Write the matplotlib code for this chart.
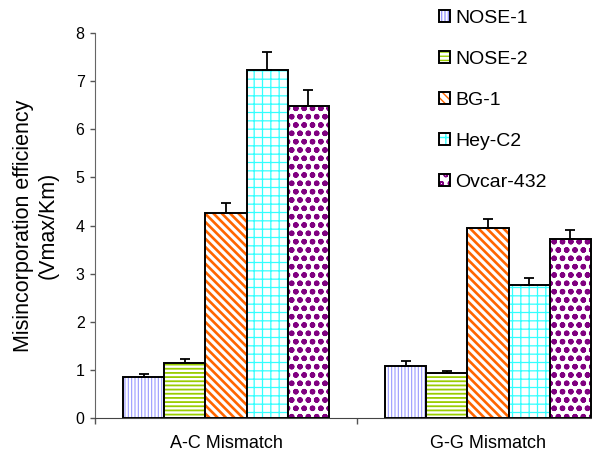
import numpy as np
import matplotlib
matplotlib.use("Agg")
import matplotlib.pyplot as plt
from matplotlib.legend_handler import HandlerTuple

plt.rcParams['font.family'] = ['Liberation Sans', 'DejaVu Sans']

#values
groups = ["A-C Mismatch", "G-G Mismatch"]
cell_lines = ["NOSE-1", "NOSE-2", "BG-1", "Hey-C2", "Ovcar-432"]
nose1 = [0.86, 1.08]
nose2 = [1.15, 0.93]
bg1 = [4.25, 3.94]
heyc2 = [7.23, 2.76]
ovcar = [6.49, 3.72]
nose1_err = [0.05, 0.10]
nose2_err = [0.08, 0.05]
bg1_err = [0.22, 0.20]
heyc2_err = [0.37, 0.14]
ovcar_err = [0.33, 0.19]
yticks = [0, 1, 2, 3, 4, 5, 6, 7, 8]

series = [nose1, nose2, bg1, heyc2, ovcar]
errors = [nose1_err, nose2_err, bg1_err, heyc2_err, ovcar_err]

#excel-like fill patterns
colors = ["#9999ff", "#99cc00", "#ff6600", "#33ffff", "#800080"]
hatches = ["|||||", "----", "\\\\\\\\", "++", "oo"]
hatch_lws = [0.8, 1.3, 1.9, 0.9, 1.6]

fig = plt.figure(figsize=(5.92, 4.51), dpi=100)
ax = fig.add_axes([95 / 592, 33 / 451, 524 / 592, 385 / 451])

width = 0.157
margin = (1 - width * len(series)) / 2
base = np.arange(len(groups))

handles = []
for i, (vals, errs) in enumerate(zip(series, errors)):
    x = base + margin + width * (i + 0.5)
    hb = ax.bar(x, vals, width, color="white", edgecolor=colors[i],
                hatch=hatches[i], linewidth=0)
    for p in hb:
        if hasattr(p, "set_hatch_linewidth"):
            p.set_hatch_linewidth(hatch_lws[i])
    ob = ax.bar(x, vals, width, fill=False, edgecolor="black", linewidth=1.4,
                yerr=[np.zeros(len(errs)), errs],
                error_kw=dict(ecolor="black", elinewidth=1.3, capsize=3.6, capthick=1.3))
    handles.append((hb.patches[0], ob.patches[0]))

ax.set_xlim(0, 2)
ax.set_ylim(0, 8)
ax.set_yticks(yticks)
ax.tick_params(axis="y", labelsize=11.5, length=3.5, width=1, color="#555555", pad=4)

ax.set_xticks([0, 1, 2])
ax.set_xticklabels(["", "", ""])
ax.set_xticks(base + 0.5, minor=True)
ax.set_xticklabels(groups, minor=True)
ax.tick_params(axis="x", which="major", length=4.5, width=1, color="#555555")
ax.tick_params(axis="x", which="minor", length=0, labelsize=13, pad=12)

for s in ["top", "right"]:
    ax.spines[s].set_visible(False)
ax.spines["left"].set_color("#666666")
ax.spines["bottom"].set_color("#444444")

ax.set_ylabel("Misincorporation efficiency\n(Vmax/Km)", fontsize=15.5, multialignment="center")
ax.yaxis.set_label_coords(-0.070, 0.5)

ax.legend(handles, cell_lines, loc="upper left",
          bbox_to_anchor=(439 / 592, 1 - 10 / 451), bbox_transform=fig.transFigure,
          frameon=False, fontsize=14, handlelength=0.55, handleheight=0.55,
          handletextpad=0.3, labelspacing=1.23, borderpad=0, borderaxespad=0,
          handler_map={tuple: HandlerTuple(ndivide=1)})

fig.savefig("out.png", dpi=100)
